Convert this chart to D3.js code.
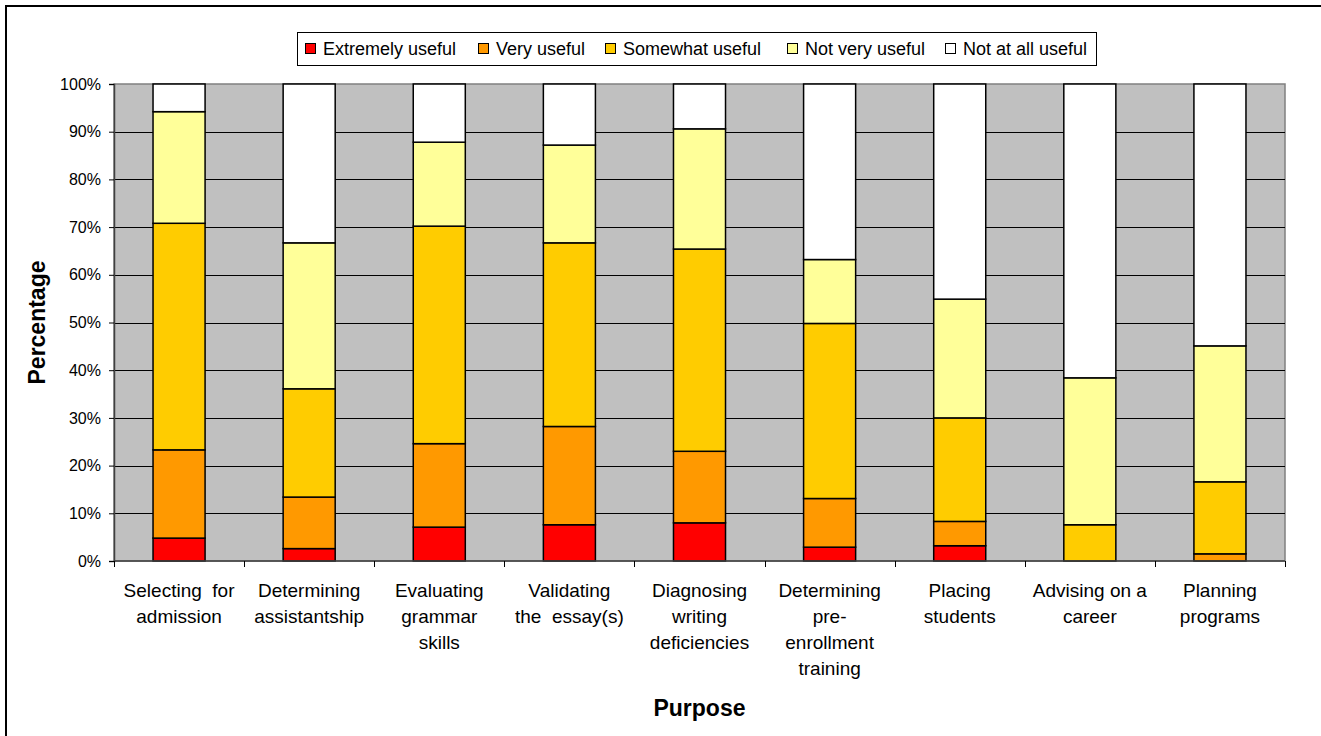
<!DOCTYPE html>
<html>
<head>
<meta charset="utf-8">
<script src="https://cdn.jsdelivr.net/npm/d3@7"></script>
<style>
  html, body { margin: 0; padding: 0; background: #fff; }
  svg { display: block; font-family: "Liberation Sans", Arial, sans-serif; }
  text { white-space: pre; }
</style>
</head>
<body>
<svg id="chart" width="1321" height="736"></svg>
<script>
// ---- data ----
const categories = [
  ["Selecting  for", "admission"],
  ["Determining", "assistantship"],
  ["Evaluating", "grammar", "skills"],
  ["Validating", "the  essay(s)"],
  ["Diagnosing", "writing", "deficiencies"],
  ["Determining", "pre-", "enrollment", "training"],
  ["Placing", "students"],
  ["Advising on a", "career"],
  ["Planning", "programs"]
];
const seriesNames = ["Extremely useful", "Very useful", "Somewhat useful", "Not very useful", "Not at all useful"];
const seriesColors = ["#FF0000", "#FF9900", "#FFCC00", "#FFFF99", "#FFFFFF"];
const extremelyUseful = [4.8, 2.6, 7.1, 7.6, 8.0, 2.9, 3.2, 0.0, 0.0];
const veryUseful      = [18.5, 10.8, 17.5, 20.6, 15.0, 10.2, 5.1, 0.0, 1.5];
const somewhatUseful  = [47.5, 22.7, 45.6, 38.5, 42.4, 36.7, 21.7, 7.6, 15.1];
const notVeryUseful   = [23.4, 30.6, 17.6, 20.5, 25.2, 13.4, 24.9, 30.8, 28.5];
const notAtAllUseful  = [5.8, 33.3, 12.2, 12.8, 9.4, 36.8, 45.1, 61.6, 54.9];
const yTicks = [0, 10, 20, 30, 40, 50, 60, 70, 80, 90, 100];
const xTitle = "Purpose";
const yTitle = "Percentage";

// ---- layout ----
const svg = d3.select("#chart");
const plot = { left: 114, right: 1285, top: 84, bottom: 561 };

// outer frame (left and top edges visible)
svg.append("rect").attr("x", 6).attr("y", 6).attr("width", 1400).attr("height", 800)
  .attr("fill", "none").attr("stroke", "#000").attr("stroke-width", 2);

const x = d3.scaleBand().domain(d3.range(categories.length)).range([plot.left, plot.right]).padding(0);
const y = d3.scaleLinear().domain([0, 100]).range([plot.bottom, plot.top]);

// plot background
svg.append("rect").attr("x", plot.left).attr("y", plot.top)
  .attr("width", plot.right - plot.left).attr("height", plot.bottom - plot.top)
  .attr("fill", "#C0C0C0").attr("stroke", "#808080").attr("stroke-width", 1.5);

// gridlines
svg.append("g").selectAll("line").data(yTicks.filter(t => t > 0 && t < 100)).join("line")
  .attr("x1", plot.left).attr("x2", plot.right)
  .attr("y1", d => Math.round(y(d)) + 0.5).attr("y2", d => Math.round(y(d)) + 0.5)
  .attr("stroke", "#000").attr("stroke-width", 1);

// stacked data
const table = categories.map((c, i) => ({
  i,
  "Extremely useful": extremelyUseful[i],
  "Very useful": veryUseful[i],
  "Somewhat useful": somewhatUseful[i],
  "Not very useful": notVeryUseful[i],
  "Not at all useful": notAtAllUseful[i]
}));
const stack = d3.stack().keys(seriesNames)(table);
const barW = x.bandwidth() * 0.4;

const gBars = svg.append("g");
stack.forEach((layer, si) => {
  gBars.append("g").selectAll("rect").data(layer.filter(d => d[1] - d[0] > 0)).join("rect")
    .attr("x", d => x(d.data.i) + (x.bandwidth() - barW) / 2)
    .attr("width", barW)
    .attr("y", d => y(d[1]))
    .attr("height", d => y(d[0]) - y(d[1]))
    .attr("fill", seriesColors[si])
    .attr("stroke", "#000").attr("stroke-width", 1.5);
});

// y axis
const yAxis = d3.axisLeft(y).tickValues(yTicks).tickFormat(d => d + "%").tickSize(5).tickPadding(8);
const gy = svg.append("g").attr("transform", `translate(${plot.left},0)`).call(yAxis);
gy.select(".domain").attr("stroke", "#404040").attr("stroke-width", 1.5);
gy.selectAll(".tick line").attr("stroke", "#000");
gy.selectAll(".tick text").attr("font-size", 16).attr("fill", "#000")
  .attr("font-family", "'Liberation Sans', Arial, sans-serif");

// x axis (ticks at category boundaries)
const gx = svg.append("g");
gx.append("line").attr("x1", plot.left).attr("x2", plot.right)
  .attr("y1", plot.bottom).attr("y2", plot.bottom).attr("stroke", "#404040").attr("stroke-width", 1.5);
gx.selectAll("line.tk").data(d3.range(categories.length + 1)).join("line").attr("class", "tk")
  .attr("x1", d => Math.round(d < categories.length ? x(d) : plot.right) + 0.5)
  .attr("x2", d => Math.round(d < categories.length ? x(d) : plot.right) + 0.5)
  .attr("y1", plot.bottom).attr("y2", plot.bottom + 6).attr("stroke", "#000");

const labels = gx.selectAll("text.lbl").data(categories).join("text").attr("class", "lbl")
  .attr("text-anchor", "middle").attr("font-size", 19).attr("fill", "#000")
  .attr("transform", (d, i) => `translate(${x(i) + x.bandwidth() / 2},0)`);
labels.selectAll("tspan").data(d => d).join("tspan")
  .attr("x", 0).attr("y", (d, j) => 597 + j * 26).text(d => d);

// axis titles
svg.append("text").attr("x", (plot.left + plot.right) / 2).attr("y", 716)
  .attr("text-anchor", "middle").attr("font-weight", "bold").attr("font-size", 23).text(xTitle);
svg.append("text").attr("transform", `translate(45,${(plot.top + plot.bottom) / 2}) rotate(-90)`)
  .attr("text-anchor", "middle").attr("font-weight", "bold").attr("font-size", 23).text(yTitle);

// legend
const legendX = [305, 478, 605, 787, 945];
const lg = svg.append("g");
lg.append("rect").attr("x", 297.5).attr("y", 32.5).attr("width", 799).attr("height", 33)
  .attr("fill", "#fff").attr("stroke", "#000").attr("stroke-width", 1);
const items = lg.selectAll("g.item").data(seriesNames).join("g").attr("class", "item")
  .attr("transform", (d, i) => `translate(${legendX[i]},0)`);
items.append("rect").attr("x", 0.5).attr("y", 43.5).attr("width", 10).attr("height", 10)
  .attr("fill", (d, i) => seriesColors[i]).attr("stroke", "#000").attr("stroke-width", 1);
items.append("text").attr("x", 18).attr("y", 54.5).attr("font-size", 18).attr("fill", "#000").text(d => d);
</script>
</body>
</html>
